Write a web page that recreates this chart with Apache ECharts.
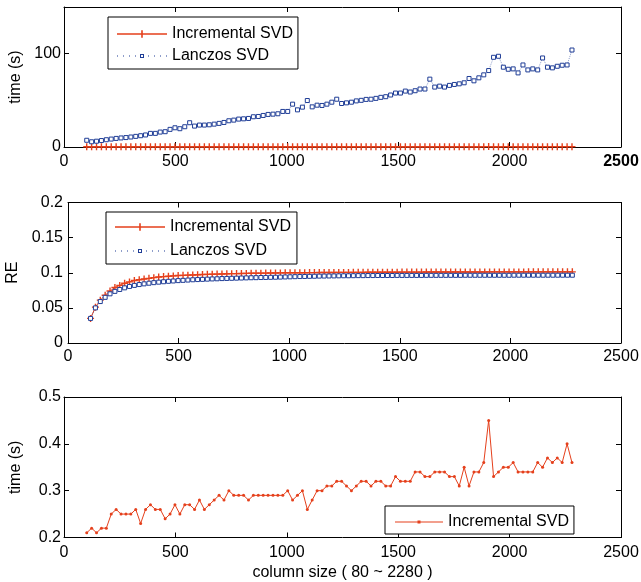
<!DOCTYPE html>
<html>
<head>
<meta charset="utf-8">
<script src="https://cdn.jsdelivr.net/npm/echarts@6/dist/echarts.min.js"></script>
<style>
  html, body { margin: 0; padding: 0; background: #fff; }
  #chart { width: 641px; height: 582px; }
</style>
</head>
<body>
<div id="chart"></div>
<script>
// Column sizes of the test matrices
const columnSizes = [
  102, 124, 146, 168, 190, 212, 234, 256, 278, 300,
  322, 344, 366, 388, 410, 432, 454, 476, 498, 520,
  542, 564, 586, 608, 630, 652, 674, 696, 718, 740,
  762, 784, 806, 828, 850, 872, 894, 916, 938, 960,
  982, 1004, 1026, 1048, 1070, 1092, 1114, 1136, 1158, 1180,
  1202, 1224, 1246, 1268, 1290, 1312, 1334, 1356, 1378, 1400,
  1422, 1444, 1466, 1488, 1510, 1532, 1554, 1576, 1598, 1620,
  1642, 1664, 1686, 1708, 1730, 1752, 1774, 1796, 1818, 1840,
  1862, 1884, 1906, 1928, 1950, 1972, 1994, 2016, 2038, 2060,
  2082, 2104, 2126, 2148, 2170, 2192, 2214, 2236, 2258, 2280
];

// Running time of the Lanczos SVD (s)
const lanczosTime = [
  7.2, 5.6, 6.2, 6.9, 7.8, 8.5, 9.2, 9.7, 10.1, 10.7,
  11.4, 12.1, 12.9, 14.6, 14.6, 16.0, 16.4, 18.9, 20.6, 19.6,
  21.7, 26.0, 22.4, 23.5, 23.5, 23.8, 24.5, 25.3, 26.3, 28.1,
  28.8, 29.9, 30.2, 30.6, 32.4, 32.7, 33.8, 34.9, 35.2, 35.6,
  38.1, 38.1, 45.9, 39.8, 42.7, 49.8, 43.0, 44.8, 44.5, 45.9,
  48.0, 51.2, 46.6, 47.3, 48.0, 49.4, 50.0, 51.0, 51.2, 52.1,
  53.2, 53.9, 55.7, 57.8, 57.8, 59.9, 58.9, 60.3, 62.1, 62.1,
  72.7, 64.2, 65.2, 64.2, 66.0, 67.0, 67.7, 68.8, 73.4, 70.9,
  74.1, 77.3, 81.9, 96.1, 97.2, 85.5, 83.3, 83.7, 79.4, 87.9,
  82.6, 83.7, 82.6, 95.4, 85.5, 84.8, 86.5, 87.6, 87.9, 103.9
];

// Running time of the incremental SVD (s)
const incrementalTime = [
  0.21, 0.22, 0.21, 0.22, 0.22, 0.25, 0.26, 0.25, 0.25, 0.25,
  0.26, 0.23, 0.26, 0.27, 0.26, 0.26, 0.24, 0.25, 0.27, 0.25,
  0.27, 0.27, 0.26, 0.28, 0.26, 0.27, 0.28, 0.29, 0.28, 0.30,
  0.29, 0.29, 0.29, 0.28, 0.29, 0.29, 0.29, 0.29, 0.29, 0.29,
  0.29, 0.30, 0.28, 0.29, 0.30, 0.26, 0.28, 0.30, 0.30, 0.31,
  0.31, 0.32, 0.32, 0.31, 0.30, 0.31, 0.32, 0.32, 0.31, 0.32,
  0.32, 0.31, 0.31, 0.33, 0.32, 0.32, 0.32, 0.34, 0.34, 0.33,
  0.33, 0.34, 0.34, 0.34, 0.33, 0.33, 0.31, 0.35, 0.31, 0.34,
  0.34, 0.36, 0.45, 0.33, 0.34, 0.35, 0.35, 0.36, 0.34, 0.34,
  0.34, 0.34, 0.36, 0.35, 0.37, 0.36, 0.37, 0.36, 0.40, 0.36
];

// Reconstruction error of the incremental SVD
const incrementalRE = [
  0.035, 0.051, 0.061, 0.068, 0.074, 0.079, 0.082, 0.085, 0.087, 0.089,
  0.090, 0.091, 0.092, 0.093, 0.094, 0.0945, 0.095, 0.0955, 0.096, 0.0963,
  0.0966, 0.0969, 0.0972, 0.0975, 0.0977, 0.0979, 0.0981, 0.0983, 0.0985, 0.0987,
  0.0988, 0.0990, 0.0991, 0.0992, 0.0993, 0.0994, 0.0995, 0.0996, 0.0997, 0.0998,
  0.0999, 0.1000, 0.1000, 0.1001, 0.1001, 0.1002, 0.1002, 0.1003, 0.1003, 0.1004,
  0.1004, 0.1005, 0.1005, 0.1005, 0.1006, 0.1006, 0.1006, 0.1007, 0.1007, 0.1007,
  0.1008, 0.1008, 0.1008, 0.1008, 0.1009, 0.1009, 0.1009, 0.1009, 0.1009, 0.1010,
  0.1010, 0.1010, 0.1010, 0.1010, 0.1010, 0.1011, 0.1011, 0.1011, 0.1011, 0.1011,
  0.1011, 0.1011, 0.1012, 0.1012, 0.1012, 0.1012, 0.1012, 0.1012, 0.1012, 0.1012,
  0.1013, 0.1013, 0.1013, 0.1013, 0.1013, 0.1013, 0.1013, 0.1013, 0.1013, 0.1013
];

// Reconstruction error of the Lanczos SVD
const lanczosRE = [
  0.035, 0.050, 0.059, 0.065, 0.070, 0.0735, 0.0762, 0.0785, 0.0805, 0.0820,
  0.0832, 0.0842, 0.0851, 0.0859, 0.0866, 0.0872, 0.0878, 0.0883, 0.0888, 0.0892,
  0.0896, 0.0900, 0.0903, 0.0906, 0.0909, 0.0912, 0.0914, 0.0917, 0.0919, 0.0921,
  0.0923, 0.0925, 0.0927, 0.0929, 0.0930, 0.0932, 0.0933, 0.0935, 0.0936, 0.0938,
  0.0940, 0.0942, 0.0944, 0.0946, 0.0947, 0.0949, 0.0950, 0.0952, 0.0953, 0.0954,
  0.0955, 0.0956, 0.0957, 0.0957, 0.0958, 0.0959, 0.0959, 0.0960, 0.0960, 0.0961,
  0.0961, 0.0961, 0.0961, 0.0962, 0.0962, 0.0962, 0.0962, 0.0962, 0.0962, 0.0963,
  0.0963, 0.0963, 0.0963, 0.0963, 0.0963, 0.0963, 0.0963, 0.0964, 0.0964, 0.0964,
  0.0964, 0.0964, 0.0964, 0.0964, 0.0964, 0.0964, 0.0964, 0.0965, 0.0965, 0.0965,
  0.0965, 0.0965, 0.0965, 0.0965, 0.0965, 0.0965, 0.0965, 0.0965, 0.0965, 0.0965
];

const xTicks = { min: 0, max: 2500, interval: 500 };
const yTop = { min: 0, max: 150, interval: 100 };
const yMid = { min: 0, max: 0.2, interval: 0.05 };
const yBot = { min: 0.2, max: 0.5, interval: 0.1 };

const FONT = 'Liberation Sans, Arial, Helvetica, sans-serif';
const RED = '#e5401c';
const BLUE = '#1f3d96';
const PLUS = 'path://M4,0H6V4H10V6H6V10H4V6H0V4H4Z';

// Legend keys: a 50x10 box holding the line sample and its marker
const KEY_PLUS = 'path://M0,0M50,10M0,4.3H50V5.7H0ZM24.2,1.2H25.8V8.8H24.2ZM21.2,4.2H28.8V5.8H21.2Z';
const KEY_SQUARE = 'path://M0,0M50,10' +
  'M0,4.5H1V5.5H0ZM6,4.5H7V5.5H6ZM12,4.5H13V5.5H12ZM18,4.5H19V5.5H18Z' +
  'M31,4.5H32V5.5H31ZM37,4.5H38V5.5H37ZM43,4.5H44V5.5H43ZM49,4.5H50V5.5H49Z' +
  'M23,3H27V7H23ZM24,4V6H26V4Z';
const KEY_DOT = 'path://M0,0M48,10M0,4.4H48V5.6H0ZM22.5,3.5H25.5V6.5H22.5Z';

const pairs = ys => columnSizes.map((x, i) => [x, ys[i]]);

const frameLine = { show: true, onZero: false, lineStyle: { color: '#000', width: 1 } };
const tick = { show: true, inside: true, length: 5, lineStyle: { color: '#000', width: 1 } };
const labelStyle = { color: '#000', fontSize: 16, fontFamily: FONT };
const plain = v => String(v);

function xPair(gridIndex, extra) {
  const bottom = Object.assign({
    type: 'value', gridIndex, position: 'bottom',
    min: xTicks.min, max: xTicks.max, interval: xTicks.interval,
    axisLine: frameLine, axisTick: tick, splitLine: { show: false },
    axisLabel: Object.assign({ margin: 7, formatter: plain }, labelStyle)
  }, extra || {});
  const top = {
    type: 'value', gridIndex, position: 'top',
    min: xTicks.min, max: xTicks.max, interval: xTicks.interval,
    axisLine: frameLine, axisTick: tick, splitLine: { show: false },
    axisLabel: { show: false }
  };
  return [bottom, top];
}

function yPair(gridIndex, range, extra) {
  const left = Object.assign({
    type: 'value', gridIndex, position: 'left',
    min: range.min, max: range.max, interval: range.interval,
    axisLine: frameLine, axisTick: tick, splitLine: { show: false },
    axisLabel: Object.assign({ margin: 3, formatter: plain }, labelStyle),
    nameLocation: 'middle', nameTextStyle: labelStyle
  }, extra || {});
  const right = {
    type: 'value', gridIndex, position: 'right',
    min: range.min, max: range.max, interval: range.interval,
    axisLine: frameLine, axisTick: tick, splitLine: { show: false },
    axisLabel: { show: false }
  };
  return [left, right];
}

const legendBase = {
  orient: 'vertical',
  backgroundColor: '#fff',
  borderColor: '#000',
  borderWidth: 1,
  borderRadius: 0,
  itemWidth: 50,
  itemHeight: 10,
  selectedMode: false,
  textStyle: { color: '#000', fontSize: 16, fontFamily: FONT }
};

const incKey = { name: 'Incremental SVD', icon: KEY_PLUS, itemStyle: { color: RED, borderWidth: 0 } };
const lanKey = { name: 'Lanczos SVD', icon: KEY_SQUARE, itemStyle: { color: BLUE, borderWidth: 0 } };

const chart = echarts.init(document.getElementById('chart'), null, { renderer: 'canvas' });

chart.setOption({
  animation: false,
  backgroundColor: '#fff',
  textStyle: { fontFamily: FONT },
  grid: [
    { left: 64, right: 20, top: 7, height: 140, outerBoundsMode: 'none' },
    { left: 68, right: 20, top: 202.5, height: 140.5, outerBoundsMode: 'none' },
    { left: 64, right: 20, top: 397, height: 140.5, outerBoundsMode: 'none' }
  ],
  xAxis: [
    ...xPair(0, {
      axisLabel: Object.assign({ margin: 7 }, labelStyle, {
        formatter: v => (v === 2500 ? '{b|' + v + '}' : String(v)),
        rich: { b: { fontWeight: 'bold', fontSize: 16, fontFamily: FONT, color: '#000' } }
      })
    }),
    ...xPair(1, { axisLabel: Object.assign({ margin: 6, formatter: plain }, labelStyle) }),
    ...xPair(2, {
      name: 'column size ( 80 ~ 2280 )',
      nameLocation: 'middle',
      nameGap: 27,
      nameTextStyle: labelStyle
    })
  ],
  yAxis: [
    ...yPair(0, yTop, {
      name: 'time (s)', nameGap: 40,
      axisLabel: Object.assign({ margin: 3, showMaxLabel: false, formatter: plain }, labelStyle)
    }),
    ...yPair(1, yMid, {
      name: 'RE', nameGap: 45,
      axisLabel: Object.assign({ margin: 5, formatter: plain }, labelStyle)
    }),
    ...yPair(2, yBot, { name: 'time (s)', nameGap: 40 })
  ],
  legend: [
    Object.assign({}, legendBase, {
      left: 108, top: 17, itemGap: 6, padding: [9, 5, 5, 9],
      data: [incKey, lanKey]
    }),
    Object.assign({}, legendBase, {
      left: 106, top: 212, itemGap: 8, padding: [7, 6, 5, 9],
      data: [incKey, lanKey]
    }),
    Object.assign({}, legendBase, {
      left: 385, top: 506, itemWidth: 48, padding: [8, 5, 4, 10],
      data: [{ name: 'Incremental SVD', icon: KEY_DOT, itemStyle: { color: RED, borderWidth: 0 } }]
    })
  ],
  series: [
    {
      name: 'Incremental SVD', type: 'line', xAxisIndex: 0, yAxisIndex: 0,
      data: pairs(incrementalTime),
      symbol: PLUS, symbolSize: 7, showAllSymbol: true,
      lineStyle: { color: RED, width: 1 },
      itemStyle: { color: RED }
    },
    {
      name: 'Lanczos SVD', type: 'line', xAxisIndex: 0, yAxisIndex: 0,
      data: pairs(lanczosTime),
      symbol: 'rect', symbolSize: 4, showAllSymbol: true,
      lineStyle: { color: BLUE, width: 1, type: 'dotted', opacity: 0.5 },
      itemStyle: { color: '#fff', borderColor: BLUE, borderWidth: 1 }
    },
    {
      name: 'Incremental SVD', type: 'line', xAxisIndex: 2, yAxisIndex: 2,
      data: pairs(incrementalRE),
      symbol: PLUS, symbolSize: 7, showAllSymbol: true,
      lineStyle: { color: RED, width: 1 },
      itemStyle: { color: RED }
    },
    {
      name: 'Lanczos SVD', type: 'line', xAxisIndex: 2, yAxisIndex: 2,
      data: pairs(lanczosRE),
      symbol: 'rect', symbolSize: 4, showAllSymbol: true,
      lineStyle: { color: BLUE, width: 1, type: 'dotted', opacity: 0.5 },
      itemStyle: { color: '#fff', borderColor: BLUE, borderWidth: 1 }
    },
    {
      name: 'Incremental SVD', type: 'line', xAxisIndex: 4, yAxisIndex: 4,
      data: pairs(incrementalTime),
      symbol: 'circle', symbolSize: 3, showAllSymbol: true,
      lineStyle: { color: RED, width: 1 },
      itemStyle: { color: RED }
    }
  ]
});
</script>
</body>
</html>
